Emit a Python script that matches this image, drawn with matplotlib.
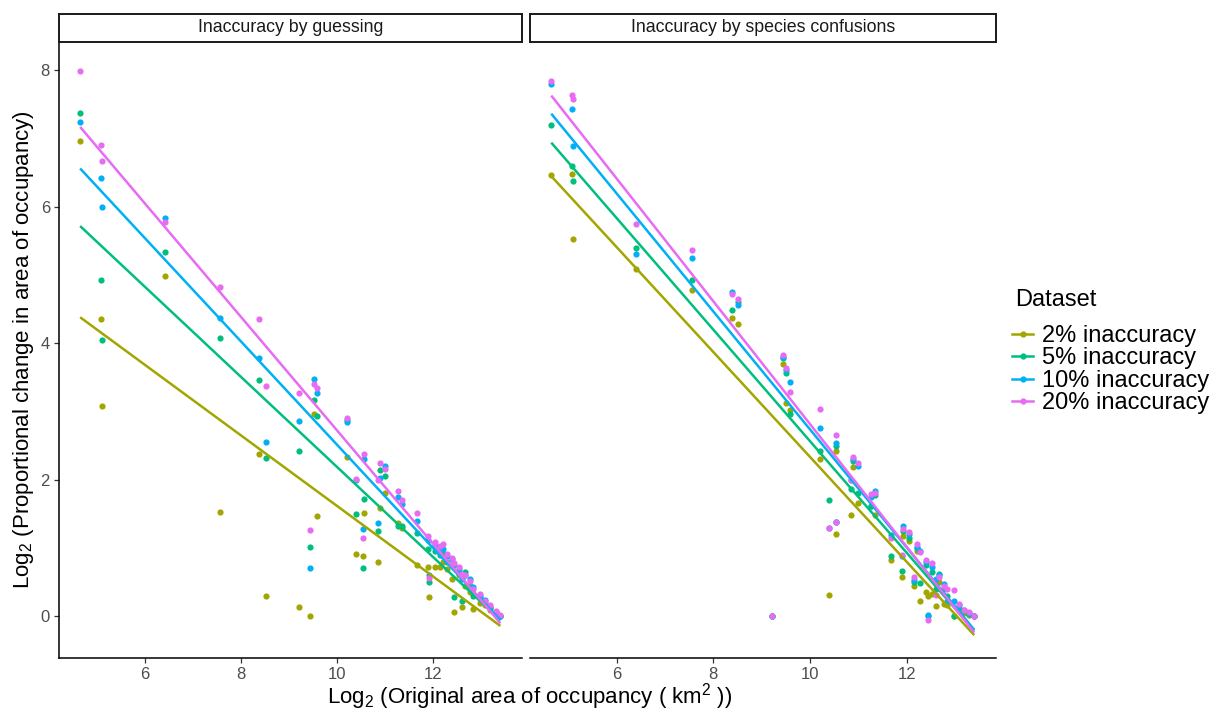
import numpy as np
import matplotlib
matplotlib.use("Agg")
import matplotlib.pyplot as plt
from matplotlib.lines import Line2D

plt.rcParams['font.family'] = ['Liberation Sans', 'DejaVu Sans']
plt.rcParams['mathtext.fontset'] = 'custom'
plt.rcParams['mathtext.rm'] = 'Liberation Sans'
plt.rcParams['mathtext.it'] = 'Liberation Sans:italic'

# ---- data ----
log2_aoo = [4.65, 5.08, 5.10, 6.41, 7.56, 8.38, 8.52, 9.21, 9.44, 9.51,
            9.58, 10.20, 10.40, 10.53, 10.55, 10.85, 10.90, 11.00, 11.27, 11.35,
            11.67, 11.90, 11.92, 12.04, 12.15, 12.21, 12.28, 12.40, 12.44, 12.53,
            12.60, 12.67, 12.77, 12.84, 12.98, 13.08, 13.19, 13.30, 13.40]

datasets = ["2% inaccuracy", "5% inaccuracy", "10% inaccuracy", "20% inaccuracy"]
colors = ["#A3A500", "#00BF7D", "#00B0F6", "#E76BF3"]
facets = ["Inaccuracy by guessing", "Inaccuracy by species confusions"]

guess_2 = [6.96, 4.36, 3.08, 4.98, 1.53, 2.38, 0.30, 0.13, 0.00, 2.96,
           1.47, 2.33, 0.92, 0.88, 1.52, 0.80, 1.59, 1.81, 1.36, 1.30,
           0.75, 0.72, 0.28, 0.72, 0.72, 0.80, 0.70, 0.55, 0.07, 0.60,
           0.14, 0.45, 0.35, 0.11, 0.20, 0.16, 0.10, 0.03, 0.00]
guess_5 = [7.37, 4.93, 4.05, 5.33, 4.08, 3.46, 2.32, 2.42, 1.02, 3.17,
           2.93, 2.88, 1.50, 0.71, 1.72, 1.25, 2.15, 2.06, 1.33, 1.32,
           1.22, 0.98, 0.51, 0.95, 0.90, 0.92, 0.80, 0.75, 0.28, 0.65,
           0.22, 0.65, 0.45, 0.30, 0.28, 0.20, 0.12, 0.05, 0.01]
guess_10 = [7.24, 6.42, 6.00, 5.83, 4.37, 3.78, 2.56, 2.86, 0.71, 3.47,
            3.27, 2.85, 2.00, 1.28, 2.30, 1.37, 2.03, 2.20, 1.75, 1.64,
            1.39, 1.12, 0.60, 1.05, 1.00, 0.99, 0.88, 0.84, 0.75, 0.70,
            0.55, 0.60, 0.55, 0.43, 0.30, 0.24, 0.14, 0.06, 0.01]
guess_20 = [7.99, 6.90, 6.67, 5.78, 4.82, 4.35, 3.38, 3.27, 1.27, 3.40,
            3.34, 2.91, 2.01, 1.14, 2.37, 1.99, 2.24, 2.16, 1.83, 1.71,
            1.51, 1.18, 0.56, 1.09, 1.03, 1.06, 0.92, 0.86, 0.78, 0.72,
            0.62, 0.60, 0.52, 0.40, 0.33, 0.22, 0.16, 0.08, 0.02]

conf_2 = [6.46, 6.48, 5.53, 5.09, 4.78, 4.37, 4.28, 0.00, 3.69, 3.13,
          3.02, 2.30, 0.31, 1.20, 2.42, 1.49, 2.18, 1.66, 1.62, 1.49,
          0.83, 0.57, 1.18, 1.10, 0.44, 0.95, 0.22, 0.36, 0.30, 0.33,
          0.15, 0.50, 0.18, 0.17, 0.00, 0.10, 0.05, 0.02, 0.00]
conf_5 = [7.20, 6.60, 6.37, 5.39, 4.93, 4.49, 4.60, 0.00, 3.78, 3.57,
          2.97, 2.42, 1.71, 1.38, 2.49, 1.86, 2.28, 1.80, 1.62, 1.78,
          0.89, 0.66, 1.25, 1.15, 0.50, 1.00, 0.49, 0.75, 0.00, 0.65,
          0.40, 0.62, 0.40, 0.30, 0.00, 0.12, 0.08, 0.03, 0.00]
conf_10 = [7.80, 7.43, 6.88, 5.30, 5.25, 4.75, 4.56, 0.00, 3.80, 3.60,
           3.43, 2.76, 1.30, 1.38, 2.54, 1.99, 2.30, 2.20, 1.75, 1.83,
           1.19, 0.88, 1.33, 1.20, 0.53, 1.02, 0.95, 0.80, 0.02, 0.72,
           0.55, 0.60, 0.48, 0.23, 0.23, 0.16, 0.10, 0.05, 0.01]
conf_20 = [7.84, 7.63, 7.58, 5.75, 5.36, 4.72, 4.65, 0.00, 3.83, 3.63,
           3.29, 3.04, 1.29, 1.38, 2.65, 2.00, 2.33, 2.24, 1.79, 1.81,
           1.15, 0.90, 1.28, 1.23, 0.57, 1.06, 0.94, 0.82, -0.05, 0.78,
           0.31, 0.58, 0.45, 0.40, 0.38, 0.18, 0.09, 0.06, 0.01]

panel_values = [[guess_2, guess_5, guess_10, guess_20],
                [conf_2, conf_5, conf_10, conf_20]]

# ---- figure ----
W, H = 1217, 713
fig = plt.figure(figsize=(W / 100, H / 100), dpi=100)

def fx(px):
    return px / W

def fy(py):
    return 1 - py / H

panel_px = [(59, 522), (530, 996)]
top_px, bot_px = 42, 658
strip_top = 14

x = np.array(log2_aoo)
for i, (l, r) in enumerate(panel_px):
    ax = fig.add_axes([fx(l), fy(bot_px), fx(r - l), (bot_px - top_px) / H])
    for j, vals in enumerate(panel_values[i]):
        y = np.array(vals)
        ax.scatter(x, y, s=20, color=colors[j], linewidths=0, zorder=3)
    for j, vals in enumerate(panel_values[i]):
        y = np.array(vals)
        slope, icpt = np.polyfit(x, y, 1)
        xs = np.array([x.min(), x.max()])
        ax.plot(xs, slope * xs + icpt, color=colors[j], lw=1.8, zorder=4,
                solid_capstyle='butt')
    ax.set_xlim(4.21, 13.85)
    ax.set_ylim(-0.61, 8.41)
    ax.set_xticks([6, 8, 10, 12])
    ax.set_yticks([0, 2, 4, 6, 8])
    for s in ['top', 'right']:
        ax.spines[s].set_visible(False)
    ax.spines['bottom'].set_linewidth(1.1)
    ax.spines['left'].set_linewidth(1.1)
    ax.tick_params(axis='both', colors='#333333', labelcolor='#4D4D4D',
                   labelsize=12, length=3.5, width=0.9, pad=3)
    if i == 1:
        ax.spines['left'].set_visible(False)
        ax.tick_params(axis='y', left=False, labelleft=False)
    # strip
    sax = fig.add_axes([fx(l), fy(top_px), fx(r - l), (top_px - strip_top) / H])
    sax.set_xticks([])
    sax.set_yticks([])
    for s in sax.spines.values():
        s.set_linewidth(1.4)
        s.set_color('#1A1A1A')
    sax.text(0.5, 0.5, facets[i], ha='center', va='center', fontsize=12.8,
             color='#1A1A1A', transform=sax.transAxes)

fig.text(fx(530), fy(703), r'Log$_2$ (Original area of occupancy ( km$^2$ ))',
         ha='center', va='baseline', fontsize=16)
fig.text(fx(24), fy(350), r'Log$_2$ (Proportional change in area of occupancy)',
         ha='center', va='center', rotation=90, fontsize=16)

fig.text(fx(1015), fy(300), 'Dataset', ha='left', va='center', fontsize=17)
handles = [Line2D([], [], color=c, lw=1.8, marker='o', markersize=4.5,
                  markeredgewidth=0) for c in colors]
leg = fig.legend(handles, datasets, loc='upper left',
                 bbox_to_anchor=(fx(1012), fy(325)), frameon=False,
                 fontsize=17, handlelength=0.9,
                 handletextpad=0.35, labelspacing=0.02, borderaxespad=0,
                 borderpad=0)

fig.savefig('out.png', dpi=100)
